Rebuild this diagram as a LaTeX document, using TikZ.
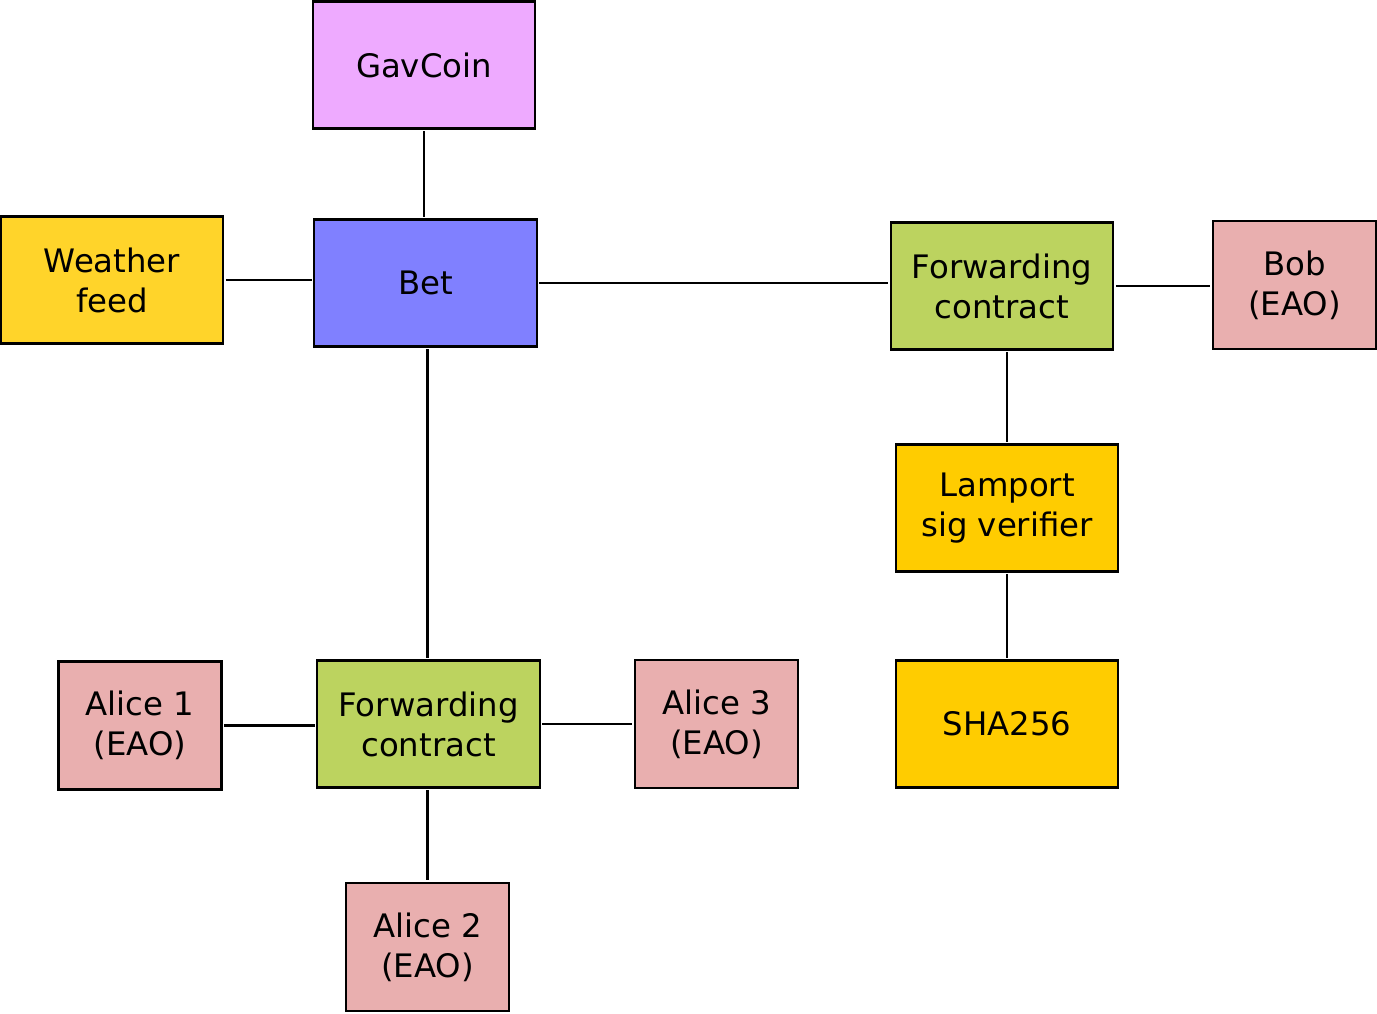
\documentclass[tikz,border=0pt]{standalone}
\usepackage{fontspec}
\setmainfont{DejaVu Sans}
\usepackage{tikz}
\definecolor{coinpink}{HTML}{EEAAFF}
\definecolor{feedyellow}{HTML}{FFD42A}
\definecolor{betblue}{HTML}{8080FF}
\definecolor{fwdgreen}{HTML}{BCD35F}
\definecolor{eaorose}{HTML}{E9AFAF}
\definecolor{libgold}{HTML}{FFCC00}
\tikzset{
  box/.style={draw,line width=0.6pt,inner sep=0,align=center,
    minimum width=2.22cm,minimum height=1.27cm,
    font=\fontsize{9.2}{11.4}\selectfont},
  eao/.style={box,fill=eaorose,minimum width=1.63cm,minimum height=1.28cm},
  link/.style={line width=0.7pt,shorten <=0.5pt,shorten >=0.5pt}
}

\begin{document}
\begin{tikzpicture}[x=0.01cm,y=-0.01cm]
      \useasboundingbox (0,0) rectangle (1377,1013);

      \node[box,fill=coinpink](coin) at (424, 65) {GavCoin};
      \node[box,fill=feedyellow](feed) at (112, 280) {Weather\\feed};
      \node[box,fill=betblue](bet) at (425.5, 283) {Bet};
      \node[box,fill=fwdgreen](fwdb) at (1002, 286) {Forwarding\\contract};
      \node[eao](bob) at (1294.5, 285) {Bob\\(EAO)};
      \node[box,fill=libgold](lamport) at (1007, 508) {Lamport\\sig verifier};
      \node[box,fill=libgold](sha) at (1007, 724) {SHA256};

      \node[box,fill=fwdgreen](fwda) at (428.5, 724) {Forwarding\\contract};
      \foreach \n/\x/\y in {1/140/725.5, 2/427.5/947, 3/716.5/724} {
        \node[eao](alice\n) at (\x, \y) {Alice \n\\(EAO)};
      }

      \draw[link] (coin) -- (coin |- bet.north);
      \draw[link] (feed.east) -- (bet.west |- feed.east);
      \draw[link] (bet.east) -- (fwdb.west |- bet.east);
      \draw[link] (fwdb.east) -- (bob.west |- fwdb.east);
      \draw[link] (lamport |- fwdb.south) -- (lamport);
      \draw[link] (lamport) -- (sha);

      \draw[link] (fwda.north -| alice2) -- (alice2 |- bet.south);
      \draw[link] (alice1.east) -- (fwda.west |- alice1.east);
      \draw[link] (fwda.east) -- (alice3.west |- fwda.east);
      \draw[link] (fwda.south -| alice2) -- (alice2);
    \end{tikzpicture}
\end{document}
